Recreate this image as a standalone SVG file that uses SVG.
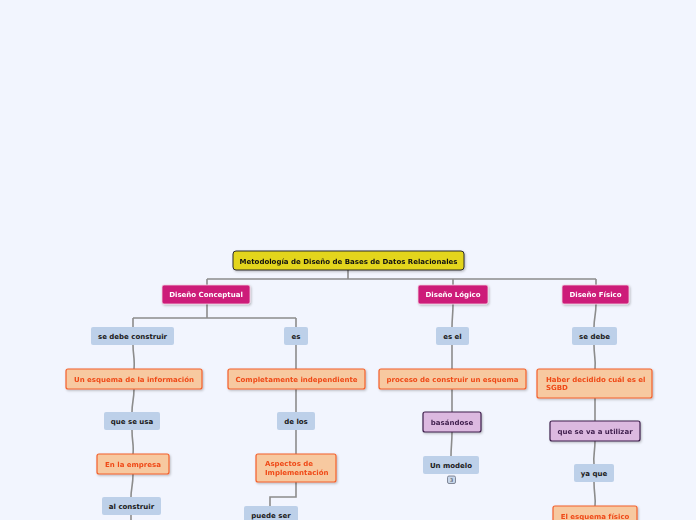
<svg xmlns="http://www.w3.org/2000/svg" width="696" height="520" viewBox="0 0 696 520">
<defs>
<filter id="sh" x="-10%" y="-20%" width="130%" height="160%">
<feDropShadow dx="1" dy="1.2" stdDeviation="0.8" flood-color="#000" flood-opacity="0.25"/>
</filter>
<style>
text{font-family:"DejaVu Sans","Verdana",sans-serif;font-weight:bold;font-size:7px;text-anchor:middle}
.root rect{fill:#e3d51c;stroke:#2b2b2b;stroke-width:1}
.root text{fill:#111}
.main rect{fill:#cd1b79;stroke:#f3d0e2;stroke-width:0.8}
.main text{fill:#fff}
.blue rect{fill:#bdd0e9;stroke:none}
.blue text{fill:#1a1a1a}
.peach rect{fill:#f7c9a0;stroke:#f3602c;stroke-width:1.2}
.peach text{fill:#ef4a18}
.purple rect{fill:#dcb9e0;stroke:#3e1e4c;stroke-width:1.2}
.purple text{fill:#3e1e4c}
.lt{text-anchor:start}
#connectors path{fill:none;stroke:#8c8c8c;stroke-width:1.6}
</style>
</defs>
<rect width="696" height="520" fill="#f2f5fe"/>
<g id="connectors">
<path d="M348 270V279M207 279H596M207 279V285M453 279V285M596 279V285"/>
<path d="M207 304V318M133 318H296M133 318V327M296 318V327"/>
<path d="M133 345C133 355 135 358 134 369M134 389C134 400 132 402 132 412M132 430C132 442 134 444 133 454M133 474C133 486 131 488 131 497M131 515V520"/>
<path d="M296 345C296 356 296 360 296 369M296 389C296 400 296 402 296 412M296 430C296 442 296 444 296 454M296 482V497H270V506"/>
<path d="M453 304C453 315 452 318 452 327M452 345C452 356 452 360 452 369M452 389C452 400 452 402 452 412M452 432C452 444 451 446 451 456"/>
<path d="M596 304C596 315 594 318 594 327M594 345C594 356 596 360 595 369M595 398C595 410 595 412 595 421M595 441C595 452 593 456 594 464M594 482C594 494 596 498 595 506"/>
</g>
<g id="root" class="root" filter="url(#sh)"><rect x="233" y="251" width="231" height="19" rx="3"/><text x="348.5" y="263.5">Metodología de Diseño de Bases de Datos Relacionales</text></g>
<g id="conceptual" class="main" filter="url(#sh)"><rect x="162" y="285" width="88" height="19" rx="2"/><text x="206" y="297">Diseño Conceptual</text></g>
<g id="logico" class="main" filter="url(#sh)"><rect x="418" y="285" width="70" height="19" rx="2"/><text x="453" y="297">Diseño Lógico</text></g>
<g id="fisico" class="main" filter="url(#sh)"><rect x="562" y="285" width="67" height="19" rx="2"/><text x="595.5" y="297">Diseño Físico</text></g>

<g id="se-debe-construir" class="blue"><rect x="91" y="327" width="83" height="18" rx="2"/><text x="132.5" y="338.5">se debe construir</text></g>
<g id="es" class="blue"><rect x="284" y="327" width="24" height="18" rx="2"/><text x="296" y="338.5">es</text></g>
<g id="un-esquema" class="peach" filter="url(#sh)"><rect x="66" y="369" width="136" height="20" rx="2"/><text x="134" y="381.5">Un esquema de la información</text></g>
<g id="completamente" class="peach" filter="url(#sh)"><rect x="228" y="369" width="137" height="20" rx="2"/><text x="296.5" y="381.5">Completamente independiente</text></g>
<g id="que-se-usa" class="blue"><rect x="104" y="412" width="56" height="18" rx="2"/><text x="132" y="423.5">que se usa</text></g>
<g id="de-los" class="blue"><rect x="277" y="412" width="38" height="18" rx="2"/><text x="296" y="423.5">de los</text></g>
<g id="en-la-empresa" class="peach" filter="url(#sh)"><rect x="97" y="454" width="72" height="20" rx="2"/><text x="133" y="466.5">En la empresa</text></g>
<g id="aspectos" class="peach" filter="url(#sh)"><rect x="256" y="454" width="80" height="28" rx="2"/><text class="lt" x="265" y="466">Aspectos de</text><text class="lt" x="265" y="475">Implementación</text></g>
<g id="al-construir" class="blue"><rect x="102" y="497" width="59" height="18" rx="2"/><text x="131.5" y="508.5">al construir</text></g>
<g id="puede-ser" class="blue"><rect x="244" y="506" width="54" height="18" rx="2"/><text x="271" y="517.5">puede ser</text></g>

<g id="es-el" class="blue"><rect x="436" y="327" width="33" height="18" rx="2"/><text x="452.5" y="338.5">es el</text></g>
<g id="proceso" class="peach" filter="url(#sh)"><rect x="379" y="369" width="147" height="20" rx="2"/><text x="452.5" y="381.5">proceso de construir un esquema</text></g>
<g id="basandose" class="purple" filter="url(#sh)"><rect x="423" y="412" width="58" height="20" rx="2"/><text x="452" y="424.5">basándose</text></g>
<g id="un-modelo" class="blue"><rect x="423" y="456" width="56" height="18" rx="2"/><text x="451" y="467.5">Un modelo</text>
<rect x="447.5" y="476" width="8" height="7.5" rx="1.5" style="fill:#c8d6ea;stroke:#6a7080;stroke-width:0.8"/><text x="451.5" y="482" style="font-size:5px;font-weight:normal;fill:#333">3</text></g>

<g id="se-debe" class="blue"><rect x="572" y="327" width="45" height="18" rx="2"/><text x="594.5" y="338.5">se debe</text></g>
<g id="haber" class="peach" filter="url(#sh)"><rect x="537" y="369" width="115" height="29" rx="2"/><text class="lt" x="546" y="381.5">Haber decidido cuál es el</text><text class="lt" x="546" y="390">SGBD</text></g>
<g id="que-se-va" class="purple" filter="url(#sh)"><rect x="550" y="421" width="90" height="20" rx="2"/><text x="595" y="433.5">que se va a utilizar</text></g>
<g id="ya-que" class="blue"><rect x="574" y="464" width="40" height="18" rx="2"/><text x="594" y="475.5">ya que</text></g>
<g id="esquema-fisico" class="peach" filter="url(#sh)"><rect x="553" y="506" width="84" height="20" rx="2"/><text x="595" y="518.5">El esquema físico</text></g>
</svg>
